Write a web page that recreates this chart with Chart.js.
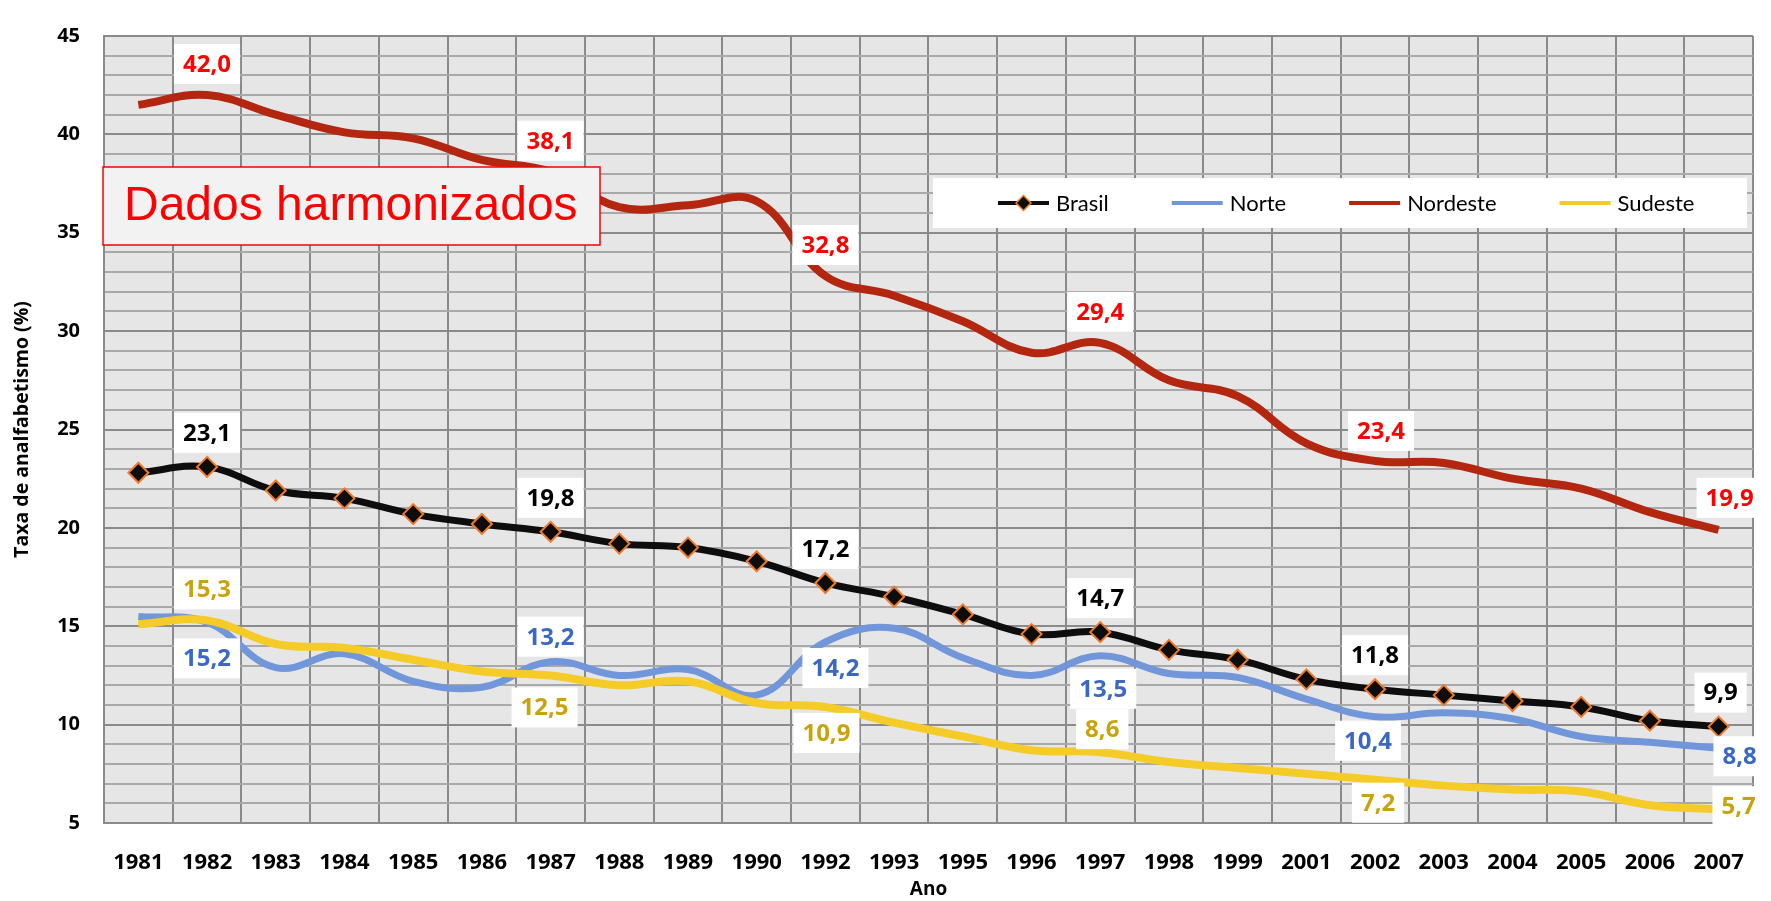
<!DOCTYPE html>
<html lang="pt">

<head>
    <meta charset="UTF-8">
    <title>Taxa de analfabetismo</title>

    <script src="https://cdn.jsdelivr.net/npm/chart.js"></script>

    <script>
        // categorias (anos) e séries
        const anos = ['1981', '1982', '1983', '1984', '1985', '1986', '1987', '1988', '1989', '1990', '1992', '1993',
            '1995', '1996', '1997', '1998', '1999', '2001', '2002', '2003', '2004', '2005', '2006', '2007'];

        const brasil = [22.8, 23.1, 21.9, 21.5, 20.7, 20.2, 19.8, 19.2, 19.0, 18.3, 17.2, 16.5,
            15.6, 14.6, 14.7, 13.8, 13.3, 12.3, 11.8, 11.5, 11.2, 10.9, 10.2, 9.9];
        const norte = [15.5, 15.2, 12.9, 13.6, 12.2, 11.9, 13.2, 12.5, 12.8, 11.5, 14.2, 14.9,
            13.4, 12.5, 13.5, 12.6, 12.4, 11.3, 10.4, 10.6, 10.3, 9.4, 9.1, 8.8];
        const nordeste = [41.5, 42.0, 41.0, 40.1, 39.8, 38.7, 38.1, 36.3, 36.4, 36.6, 32.8, 31.8,
            30.5, 28.9, 29.4, 27.5, 26.7, 24.3, 23.4, 23.3, 22.5, 22.0, 20.8, 19.9];
        const sudeste = [15.1, 15.3, 14.1, 13.9, 13.3, 12.7, 12.5, 12.0, 12.2, 11.1, 10.9, 10.1,
            9.4, 8.7, 8.6, 8.1, 7.8, 7.5, 7.2, 6.9, 6.7, 6.6, 5.9, 5.7];

        // anos com rótulo de valor
        const anosRotulados = ['1982', '1987', '1992', '1997', '2002', '2007'];

        // eixo y
        const yMin = 5, yMax = 45, yMajor = 5;

        // deslocamento dos rótulos em relação ao ponto [dx, dy]
        const posRotulos = {
            'Brasil': [[0, -34], [0, -34], [0, -34], [0, -34], [0, -34], [2, -34]],
            'Norte': [[0, 36], [0, -25], [10, 26], [3, 33], [-7, 24], [21, 8]],
            'Nordeste': [[0, -31], [0, -31], [0, -31], [0, -31], [6, -30], [11, -32]],
            'Sudeste': [[0, -31], [-6, 32], [1, 26], [2, -23], [3, 23], [20, -3]],
        };

        const FONT = '"Open Sans", Lato, sans-serif';
        const FONT_LEG = 'Lato, "Open Sans", sans-serif';

        const fundoPlot = {
            id: 'fundoPlot',
            beforeDraw(chart) {
                const { ctx, chartArea: a } = chart;
                ctx.save();
                ctx.fillStyle = '#e6e6e6';
                ctx.fillRect(a.left, a.top, a.right - a.left, a.bottom - a.top);
                ctx.restore();
            }
        };

        const extras = {
            id: 'extras',
            afterDatasetsDraw(chart) {
                const { ctx, chartArea: a } = chart;
                ctx.save();

                // caixa "Dados harmonizados"
                ctx.fillStyle = '#f2f2f2';
                ctx.fillRect(a.left - 1, a.top + 131, 497, 78);
                ctx.strokeStyle = '#ff0000';
                ctx.lineWidth = 1.5;
                ctx.strokeRect(a.left - 1, a.top + 131, 497, 78);
                ctx.fillStyle = '#ff0000';
                ctx.font = '48px "Liberation Sans", Arial, sans-serif';
                ctx.textAlign = 'left';
                ctx.textBaseline = 'middle';
                ctx.fillText('Dados harmonizados', a.left + 20, a.top + 171);

                // legenda
                const lx = a.left + 829, ly = a.top + 142;
                ctx.fillStyle = '#ffffff';
                ctx.fillRect(lx, ly, 814, 50);
                let x = lx + 65;
                const cy = ly + 25;
                ctx.font = '22px ' + FONT_LEG;
                chart.data.datasets.forEach(ds => {
                    ctx.strokeStyle = ds.borderColor;
                    ctx.lineWidth = 4;
                    ctx.beginPath();
                    ctx.moveTo(x, cy);
                    ctx.lineTo(x + 51, cy);
                    ctx.stroke();
                    if (ds.pointRadius > 0) {
                        const r = 7.5, mx = x + 25.5;
                        ctx.beginPath();
                        ctx.moveTo(mx - r, cy); ctx.lineTo(mx, cy - r);
                        ctx.lineTo(mx + r, cy); ctx.lineTo(mx, cy + r);
                        ctx.closePath();
                        ctx.fillStyle = ds.pointBackgroundColor;
                        ctx.fill();
                        ctx.strokeStyle = ds.pointBorderColor;
                        ctx.lineWidth = 1.5;
                        ctx.stroke();
                    }
                    ctx.fillStyle = '#000';
                    ctx.textAlign = 'left';
                    ctx.textBaseline = 'middle';
                    ctx.fillText(ds.label, x + 58, cy + 1);
                    x += 58 + ctx.measureText(ds.label).width + 63;
                });

                // rótulos de valores
                ctx.font = 'bold 24px ' + FONT;
                ctx.textAlign = 'center';
                ctx.textBaseline = 'middle';
                chart.data.datasets.forEach((ds, i) => {
                    const meta = chart.getDatasetMeta(i);
                    anosRotulados.forEach((ano, k) => {
                        const idx = chart.data.labels.indexOf(ano);
                        const pt = meta.data[idx];
                        const [dx, dy] = posRotulos[ds.label][k];
                        const txt = ds.data[idx].toFixed(1).replace('.', ',');
                        const w = ctx.measureText(txt).width + 18, h = 40;
                        const cx = pt.x + dx, cyl = pt.y + dy;
                        ctx.fillStyle = '#ffffff';
                        ctx.fillRect(cx - w / 2, cyl - h / 2, w, h);
                        ctx.fillStyle = ds.labelColor;
                        ctx.fillText(txt, cx, cyl + 1);
                    });
                });

                ctx.restore();
            }
        };

        window.onload = () => {
            const ctx = document.getElementById('myChart');

            new Chart(ctx, {
                type: 'line',
                data: {
                    labels: anos,
                    datasets: [{
                        label: 'Brasil',
                        data: brasil,
                        borderColor: '#0d0d0d',
                        borderWidth: 7,
                        tension: 0.4,
                        pointStyle: 'rectRot',
                        pointRadius: 10,
                        pointBackgroundColor: '#0d0d0d',
                        pointBorderColor: '#ef7b2a',
                        pointBorderWidth: 2,
                        labelColor: '#000000',
                        order: 0,
                    }, {
                        label: 'Norte',
                        data: norte,
                        borderColor: '#7196da',
                        borderWidth: 7,
                        tension: 0.4,
                        pointRadius: 0,
                        labelColor: '#3a68c4',
                        order: 3,
                    }, {
                        label: 'Nordeste',
                        data: nordeste,
                        borderColor: '#b3260f',
                        borderWidth: 8,
                        tension: 0.4,
                        pointRadius: 0,
                        labelColor: '#ff0000',
                        order: 2,
                    }, {
                        label: 'Sudeste',
                        data: sudeste,
                        borderColor: '#f5cb28',
                        borderWidth: 8,
                        tension: 0.4,
                        pointRadius: 0,
                        labelColor: '#c9a30a',
                        order: 1,
                    }]
                },
                options: {
                    responsive: true,
                    maintainAspectRatio: false,
                    animation: false,
                    layout: {
                        padding: { top: 19, right: 12, left: 0, bottom: 0 }
                    },
                    scales: {
                        x: {
                            offset: true,
                            afterFit: (s) => { s.height = 78; },
                            grid: {
                                offset: true,
                                color: '#8a8a8a',
                                lineWidth: 2,
                                drawTicks: false,
                            },
                            border: { color: '#8a8a8a', width: 2 },
                            ticks: {
                                color: '#000',
                                padding: 27,
                                maxRotation: 0,
                                autoSkip: false,
                                font: { family: FONT, weight: 'bold', size: 22 }
                            },
                            title: {
                                display: true,
                                text: 'Ano',
                                color: '#000',
                                padding: { top: 0, bottom: 0 },
                                font: { family: FONT, weight: 'bold', size: 19 }
                            }
                        },
                        y: {
                            min: yMin,
                            max: yMax,
                            afterFit: (s) => { s.width = 104; },
                            grid: {
                                color: (c) => c.tick && c.tick.value % yMajor === 0 ? '#8a8a8a' : '#a9a9a9',
                                lineWidth: 2,
                                drawTicks: false,
                            },
                            border: { color: '#8a8a8a', width: 2 },
                            ticks: {
                                stepSize: 1,
                                autoSkip: false,
                                color: '#000',
                                padding: 24,
                                callback: (v) => v % yMajor === 0 ? v : '',
                                font: { family: FONT, weight: 'bold', size: 20 }
                            },
                            title: {
                                display: true,
                                text: 'Taxa de analfabetismo (%)',
                                color: '#000',
                                padding: { top: 11, bottom: 0 },
                                font: { family: FONT, weight: 'bold', size: 19.5 }
                            }
                        }
                    },
                    plugins: {
                        legend: { display: false },
                        tooltip: { enabled: false },
                    }
                },
                plugins: [fundoPlot, extras]
            });
        }
    </script>

    <style>
        body {
            margin: 0;
            background: #fff;
        }

        #grafico {
            position: relative;
            width: 1771px;
            height: 901px;
        }
    </style>
</head>

<body>
    <div id="grafico">
        <canvas id="myChart"></canvas>
    </div>
</body>

</html>
